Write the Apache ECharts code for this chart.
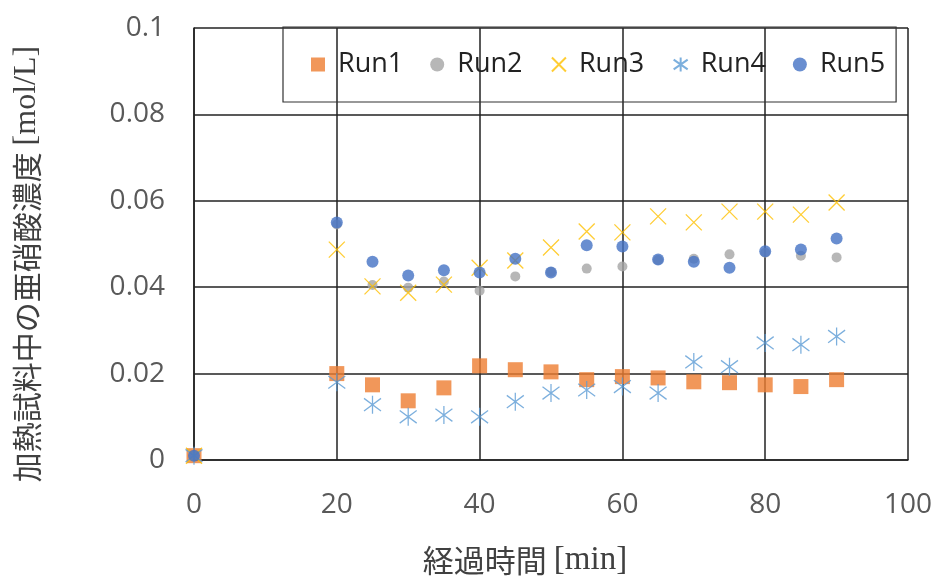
<!DOCTYPE html>
<html>
<head>
<meta charset="utf-8">
<script src="https://cdn.jsdelivr.net/npm/echarts@6/dist/echarts.min.js"></script>
<style>html,body{margin:0;padding:0;background:#fff}#c{width:942px;height:586px}</style>
</head>
<body>
<div id="c"></div>
<script>
const times = [0, 20, 25, 30, 35, 40, 45, 50, 55, 60, 65, 70, 75, 80, 85, 90];
const run1 = [0.001, 0.0200, 0.0174, 0.0137, 0.0167, 0.0218, 0.0209, 0.0204, 0.0186, 0.0193, 0.0190, 0.0181, 0.0179, 0.0174, 0.0170, 0.0186];
const run2 = [0.001, 0.0545, 0.0405, 0.0399, 0.0413, 0.0392, 0.0425, 0.0435, 0.0443, 0.0448, 0.0463, 0.0466, 0.0476, 0.0480, 0.0473, 0.0469];
const run3 = [0.001, 0.0487, 0.0402, 0.0387, 0.0406, 0.0445, 0.0462, 0.0492, 0.0529, 0.0527, 0.0564, 0.0550, 0.0575, 0.0575, 0.0568, 0.0596];
const run4 = [0.001, 0.0180, 0.0128, 0.0100, 0.0104, 0.0100, 0.0135, 0.0155, 0.0162, 0.0170, 0.0155, 0.0227, 0.0216, 0.0271, 0.0267, 0.0286];
const run5 = [0.001, 0.0550, 0.0459, 0.0427, 0.0439, 0.0434, 0.0466, 0.0434, 0.0497, 0.0494, 0.0464, 0.0459, 0.0445, 0.0483, 0.0487, 0.0513];
const seriesNames = ['Run1', 'Run2', 'Run3', 'Run4', 'Run5'];

const pair = arr => times.map((t, i) => [t, arr[i]]);
const xPath = 'path://M0 0L10 10M10 0L0 10';
const starPath = 'path://M5 0L5 10M0 1.5L10 8.5M10 1.5L0 8.5';

const chart = echarts.init(document.getElementById('c'));
chart.setOption({
  animation: false,
  backgroundColor: '#fff',
  grid: { left: 194, right: 34, top: 28, bottom: 126, containLabel: false },
  legend: {
    left: 283, top: 27,
    padding: [24, 11, 24, 28],
    borderColor: '#333', borderWidth: 1.2,
    itemGap: 27, itemWidth: 14, itemHeight: 14,
    textStyle: { fontFamily: 'Open Sans', fontSize: 27, color: '#222', padding: [0, 0, 0, 8] },
    data: seriesNames
  },
  xAxis: {
    type: 'value', min: 0, max: 100, interval: 20,
    name: '{jp|経過時間 }{en|[min]}', nameLocation: 'middle', nameGap: 84,
    nameTextStyle: { padding: [0, 52, 0, 0], rich: {
      jp: { fontFamily: 'Noto Sans CJK JP', fontSize: 31, color: '#404040' },
      en: { fontFamily: 'Liberation Serif', fontSize: 33, color: '#404040' } } },
    axisLine: { show: true, lineStyle: { color: '#222', width: 1.5 } },
    axisTick: { show: false },
    axisLabel: { fontFamily: 'Open Sans', fontSize: 28, color: '#595959', margin: 31 },
    splitLine: { show: true, lineStyle: { color: '#222', width: 1.5 } }
  },
  yAxis: {
    type: 'value', min: 0, max: 0.1, interval: 0.02,
    name: '{jp|加熱試料中の亜硝酸濃度 }{en|[mol/L]}', nameLocation: 'middle', nameGap: 151, nameRotate: 90,
    nameTextStyle: { padding: [0, 40, 0, 0], rich: {
      jp: { fontFamily: 'Noto Sans CJK JP', fontSize: 30, color: '#404040' },
      en: { fontFamily: 'Liberation Serif', fontSize: 32, color: '#404040' } } },
    axisLine: { show: true, lineStyle: { color: '#222', width: 1.5 } },
    axisTick: { show: false },
    axisLabel: { fontFamily: 'Open Sans', fontSize: 28, color: '#595959', margin: 29 },
    splitLine: { show: true, lineStyle: { color: '#222', width: 1.5 } }
  },
  series: [
    { name: 'Run1', type: 'scatter', data: pair(run1), symbol: 'rect', symbolSize: 15,
      itemStyle: { color: '#ED7D31' } },
    { name: 'Run2', type: 'scatter', data: pair(run2), symbol: 'circle', symbolSize: 10,
      itemStyle: { color: '#A5A5A5' } },
    { name: 'Run3', type: 'scatter', data: pair(run3), symbol: xPath, symbolSize: 16,
      itemStyle: { color: 'none', borderColor: '#FFC000', borderWidth: 1.3 } },
    { name: 'Run4', type: 'scatter', data: pair(run4), symbol: starPath, symbolSize: [17, 18],
      itemStyle: { color: 'none', borderColor: '#5B9BD5', borderWidth: 1.3 } },
    { name: 'Run5', type: 'scatter', data: pair(run5), symbol: 'circle', symbolSize: 12,
      itemStyle: { color: '#4472C4' } }
  ]
});
</script>
</body>
</html>
